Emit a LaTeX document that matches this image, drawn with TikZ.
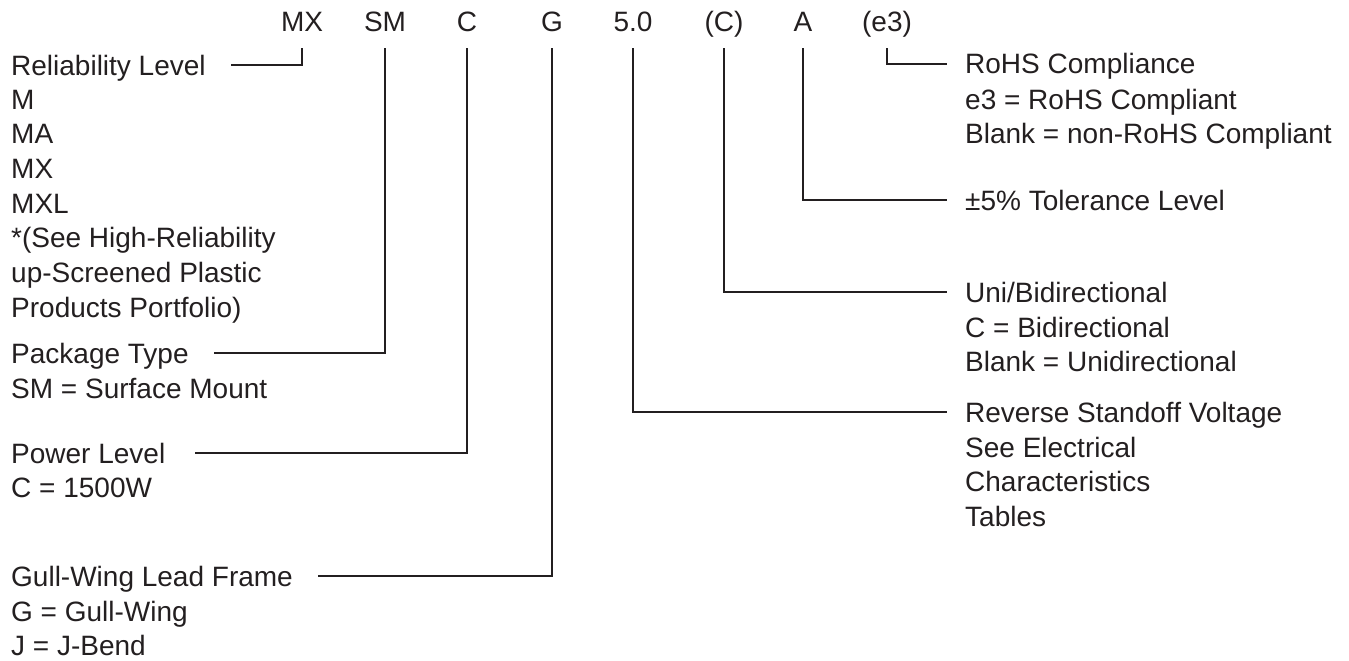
\documentclass[tikz,border=0pt]{standalone}
\usepackage{fontspec}
\setmainfont{Liberation Sans}
\usetikzlibrary{positioning}
\definecolor{ink}{HTML}{231F20}
\newcommand{\descgap}{14.7pt}
\tikzset{
  partcode/.style={font=\fontsize{28}{34.7}\selectfont, text=ink, inner sep=0pt, text depth=0pt, anchor=base},
  fieldhead/.style={font=\fontsize{28}{34.7}\selectfont, text=ink, inner sep=0pt, text height=22pt, text depth=2pt, anchor=base west},
  fielddesc/.style={font=\fontsize{28}{34.7}\selectfont, text=ink, inner sep=0pt, align=left, anchor=north west},
  lead/.style={draw=ink, line width=1.8pt, shorten <=16pt, shorten >=#1},
  lead/.default=25pt
}
\begin{document}
\begin{tikzpicture}[x=1pt,y=-1pt]
    \useasboundingbox (0,0) rectangle (1349,661);
    % part number
    \node[partcode] (mx) at (302,32) {MX};
    \node[partcode] (sm) at (385,32) {SM};
    \node[partcode] (pw) at (467,32) {C};
    \node[partcode] (gw) at (552,32) {G};
    \node[partcode] (vr) at (633,32) {5.0};
    \node[partcode] (bd) at (724,32) {(C)};
    \node[partcode] (tl) at (803,32) {A};
    \node[partcode] (rh) at (887,32) {(e3)};
    % left fields
    \node[fieldhead] (rel) at (11,75) {Reliability Level};
    \node[fielddesc] (rel-desc) at ([yshift=-\descgap]rel.base west) {M\\MA\\MX\\MXL\\*(See High-Reliability\\up-Screened Plastic\\Products Portfolio)};
    \node[fieldhead] (pkg) at (11,363) {Package Type};
    \node[fielddesc] (pkg-desc) at ([yshift=-\descgap]pkg.base west) {SM = Surface Mount};
    \node[fieldhead] (pwr) at (11,463) {Power Level};
    \node[fielddesc] (pwr-desc) at ([yshift=-\descgap]pwr.base west) {C = 1500W};
    \node[fieldhead] (lead) at (11,586) {Gull-Wing Lead Frame};
    \node[fielddesc] (lead-desc) at ([yshift=-\descgap]lead.base west) {G = Gull-Wing\\J = J-Bend};
    % right fields
    \node[fieldhead] (rohs) at (965,74) {RoHS Compliance};
    \node[fielddesc] (rohs-desc) at ([yshift=-\descgap]rohs.base west) {e3 = RoHS Compliant\\Blank = non-RoHS Compliant};
    \node[fieldhead] (tol) at (965,210) {±5\% Tolerance Level};
    \node[fieldhead] (dir) at (965,302) {Uni/Bidirectional};
    \node[fielddesc] (dir-desc) at ([yshift=-\descgap]dir.base west) {C = Bidirectional\\Blank = Unidirectional};
    \node[fieldhead] (vrwm) at (965,422) {Reverse Standoff Voltage};
    \node[fielddesc] (vrwm-desc) at ([yshift=-\descgap]vrwm.base west) {See Electrical\\Characteristics\\Tables};
    % leads
    \draw[lead] (mx.south) |- (rel.east);
    \draw[lead] (sm.south) |- (pkg.east);
    \draw[lead=30pt] (pw.south) |- (pwr.east);
    \draw[lead] (gw.south) |- (lead.east);
    \draw[lead=18pt] (vr.south) |- (vrwm.west);
    \draw[lead=18pt] (bd.south) |- (dir.west);
    \draw[lead=18pt] (tl.south) |- (tol.west);
    \draw[lead=18pt] (rh.south) |- (rohs.west);
\end{tikzpicture}
\end{document}
